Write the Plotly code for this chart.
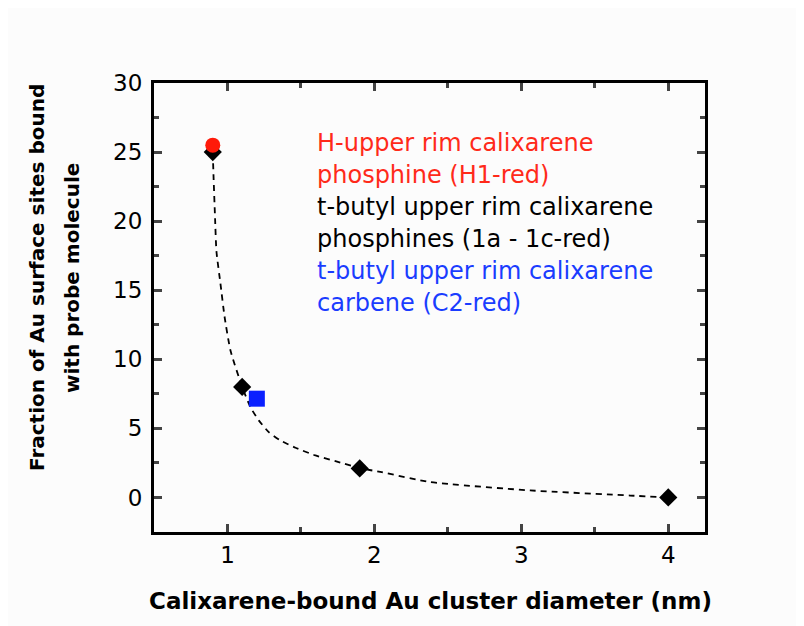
import plotly.graph_objects as go

# Data
diam_black = [0.9, 1.1, 1.9, 4.0]
frac_black = [25.0, 8.0, 2.1, 0.0]
diam_red = [0.9]
frac_red = [25.5]
diam_blue = [1.2]
frac_blue = [7.15]
fit_x = [0.9, 0.905, 0.916, 0.925, 0.952, 0.98, 1.02, 1.1, 1.156, 1.213, 1.281, 1.36, 1.463, 1.599, 1.735, 1.9, 2.05, 2.38, 3.06, 3.74, 4.0]
fit_y = [25.0, 23.3, 20.1, 17.8, 15.5, 13.1, 10.65, 8.0, 6.54, 5.58, 4.73, 4.13, 3.6, 3.04, 2.63, 2.12, 1.83, 1.11, 0.51, 0.14, 0.0]

legend_lines = [
    ("H-upper rim calixarene", "#ff2a1a"),
    ("phosphine (H1-red)", "#ff2a1a"),
    ("t-butyl upper rim calixarene", "#000000"),
    ("phosphines (1a - 1c-red)", "#000000"),
    ("t-butyl upper rim calixarene", "#1a3cff"),
    ("carbene (C2-red)", "#1a3cff"),
]
x_title = "Calixarene-bound Au cluster diameter (nm)"
y_title_lines = ["Fraction of Au surface sites bound", "with probe molecule"]

# layout helpers (screen px -> paper coords); plot area spans x 154..705, y 83..532 on screen
L, T, R, B = 146, 75, 107, 102
W, H = 804, 626
def px(X):
    return (X - 8 - L) / (W - L - R)
def py(Y):
    return (H - B - (Y - 8)) / (H - T - B)

fig = go.Figure()
fig.add_trace(go.Scatter(x=fit_x, y=fit_y, mode="lines",
                         line=dict(color="black", width=1.8, dash="6px,5px", shape="spline", smoothing=0.5),
                         showlegend=False, hoverinfo="skip"))
fig.add_trace(go.Scatter(x=diam_black, y=frac_black, mode="markers",
                         marker=dict(symbol="diamond", size=14, color="black"), showlegend=False))
fig.add_trace(go.Scatter(x=diam_red, y=frac_red, mode="markers",
                         marker=dict(symbol="circle", size=15, color="#ff1a0a"), showlegend=False))
fig.add_trace(go.Scatter(x=diam_blue, y=frac_blue, mode="markers",
                         marker=dict(symbol="square", size=16, color="#0a20ff"), showlegend=False))

for i, (txt, col) in enumerate(legend_lines):
    fig.add_annotation(x=px(315), xref="paper", y=py(143 + 32 * i), yref="paper",
                       text=txt, showarrow=False, xanchor="left", yanchor="middle",
                       font=dict(family="DejaVu Sans", size=24, color=col))

fig.add_annotation(x=px(430), xref="paper", y=py(601), yref="paper", text="<b>%s</b>" % x_title,
                   showarrow=False, xanchor="center", yanchor="middle",
                   font=dict(family="DejaVu Sans", size=23, color="black"))
for i, (txt, X) in enumerate(zip(y_title_lines, [37, 72])):
    fig.add_annotation(x=px(X), xref="paper", y=py(278), yref="paper", text="<b>%s</b>" % txt,
                       showarrow=False, xanchor="center", yanchor="middle", textangle=-90,
                       font=dict(family="DejaVu Sans", size=20, color="black"))

fig.update_layout(
    width=W, height=H,
    margin=dict(l=L, r=R, t=T, b=B),
    paper_bgcolor="#fcfcfc", plot_bgcolor="#fcfcfc",
    font=dict(family="DejaVu Sans", size=23, color="black"),
    xaxis=dict(range=[0.5, 4.25], tickvals=[1, 2, 3, 4], ticks="inside", ticklen=8, tickwidth=2.5,
               minor=dict(tickvals=[1.5, 2.5, 3.5], ticks="inside", ticklen=5, tickwidth=2.5, showgrid=False),
               showline=True, linewidth=3, linecolor="black", mirror="ticks", showgrid=False, zeroline=False,
               tickfont=dict(size=23), ticklabelstandoff=0, automargin=False),
    yaxis=dict(range=[-2.5, 30], tickvals=[0, 5, 10, 15, 20, 25, 30], ticks="inside", ticklen=8, tickwidth=2.5,
               minor=dict(tickvals=[2.5, 7.5, 12.5, 17.5, 22.5, 27.5], ticks="inside", ticklen=5, tickwidth=2.5, showgrid=False),
               showline=True, linewidth=3, linecolor="black", mirror="ticks", showgrid=False, zeroline=False,
               tickfont=dict(size=23), ticklabelstandoff=4, automargin=False),
)

fig.write_html("out.html")
